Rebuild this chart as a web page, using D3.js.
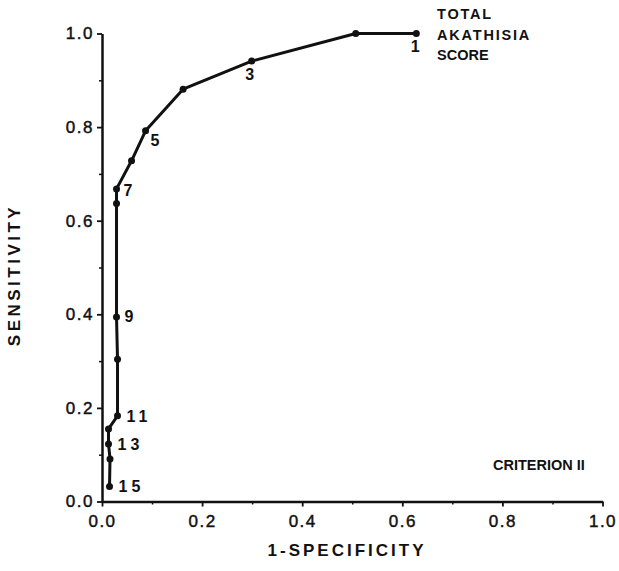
<!DOCTYPE html>
<html>
<head>
<meta charset="utf-8">
<script src="https://cdn.jsdelivr.net/npm/d3@7"></script>
<style>
  body { margin: 0; background: #fff; }
  svg { font-family: "Liberation Sans", Arial, Helvetica, sans-serif; }
  .axis path, .axis line { stroke: #111; }
  .axis text { fill: #111; stroke: #111; stroke-width: 0.45px; }
</style>
</head>
<body>
<div id="chart"></div>
<script>
// ROC points for the total akathisia score, cut-off 1 through 15
var cutoffs = [1, 2, 3, 4, 5, 6, 7, 8, 9, 10, 11, 12, 13, 14, 15];
var falsePos = [0.628, 0.507, 0.299, 0.162, 0.087, 0.059, 0.029, 0.029, 0.029, 0.031, 0.031, 0.013, 0.013, 0.016, 0.015];
var truePos = [1.0, 1.0, 0.941, 0.881, 0.792, 0.728, 0.668, 0.637, 0.394, 0.304, 0.183, 0.155, 0.123, 0.091, 0.032];
var majorTicks = [0, 0.2, 0.4, 0.6, 0.8, 1.0];
var minorTicks = [0.1, 0.3, 0.5, 0.7, 0.9];
var titleLines = ["TOTAL", "AKATHISIA", "SCORE"];

var svgWidth = 619;
var svgHeight = 571;
var margin = { top: 33.5, right: 16.5, bottom: 69.5, left: 102 };
var width = svgWidth - margin.left - margin.right;
var height = svgHeight - margin.top - margin.bottom;

var svg = d3.select("#chart")
  .append("svg")
  .attr("width", svgWidth)
  .attr("height", svgHeight);

var chartGroup = svg.append("g")
  .attr("transform", `translate(${margin.left}, ${margin.top})`);

var xScale = d3.scaleLinear().domain([0, 1]).range([0, width]);
var yScale = d3.scaleLinear().domain([0, 1]).range([height, 0]);

var points = cutoffs.map(function(c, i) {
  return { score: c, x: falsePos[i], y: truePos[i] };
});

// minor ticks first, no labels
chartGroup.append("g")
  .attr("class", "axis")
  .attr("transform", `translate(0, ${height})`)
  .call(d3.axisBottom(xScale).tickValues(minorTicks).tickSize(3).tickFormat(""))
  .call(g => g.select(".domain").remove())
  .selectAll("line").attr("stroke-width", 1.5);

chartGroup.append("g")
  .attr("class", "axis")
  .call(d3.axisLeft(yScale).tickValues(minorTicks).tickSize(3).tickFormat(""))
  .call(g => g.select(".domain").remove())
  .selectAll("line").attr("stroke-width", 1.5);

// major axes with labels
var xAxis = chartGroup.append("g")
  .attr("class", "axis")
  .attr("transform", `translate(0, ${height})`)
  .call(d3.axisBottom(xScale).tickValues(majorTicks).tickSize(5).tickSizeOuter(0).tickPadding(8).tickFormat(d3.format(".1f")));
xAxis.select(".domain").attr("stroke-width", 2.5);
xAxis.selectAll("line").attr("stroke-width", 1.8);
xAxis.selectAll("text")
  .style("font-size", "17px")
  .style("letter-spacing", "1.5px");

var yAxis = chartGroup.append("g")
  .attr("class", "axis")
  .call(d3.axisLeft(yScale).tickValues(majorTicks).tickSize(5).tickSizeOuter(0).tickPadding(3).tickFormat(d3.format(".1f")));
yAxis.select(".domain").attr("stroke-width", 2.5);
yAxis.selectAll("line").attr("stroke-width", 1.8);
yAxis.selectAll("text")
  .style("font-size", "17px")
  .style("letter-spacing", "1.5px");

// ROC curve
var line = d3.line()
  .x(d => xScale(d.x))
  .y(d => yScale(d.y));

chartGroup.append("path")
  .datum(points)
  .attr("d", line)
  .attr("fill", "none")
  .attr("stroke", "#111")
  .attr("stroke-width", 3)
  .attr("stroke-linejoin", "round");

chartGroup.selectAll("circle")
  .data(points)
  .enter()
  .append("circle")
  .attr("cx", d => xScale(d.x))
  .attr("cy", d => yScale(d.y))
  .attr("r", 3.5)
  .attr("fill", "#111");

// label every other cut-off
var labelOffsets = {
  1: [-1, 18, "middle"],
  3: [-2, 19, "middle"],
  5: [5, 15, "start"],
  7: [7, 7, "start"],
  9: [8, 5, "start"],
  11: [9, 6, "start"],
  13: [9, 6, "start"],
  15: [9, 5, "start"]
};

chartGroup.selectAll(".label")
  .data(points.filter(d => d.score % 2 === 1))
  .enter()
  .append("text")
  .attr("class", "label")
  .attr("x", d => xScale(d.x) + labelOffsets[d.score][0])
  .attr("y", d => yScale(d.y) + labelOffsets[d.score][1])
  .attr("text-anchor", d => labelOffsets[d.score][2])
  .style("font-size", "16px")
  .style("font-weight", "bold")
  .style("letter-spacing", d => d.score > 9 ? "4px" : "0px")
  .attr("fill", "#111")
  .text(d => d.score);

// series title, top right
svg.selectAll(".title")
  .data(titleLines)
  .enter()
  .append("text")
  .attr("class", "title")
  .attr("x", 437)
  .attr("y", (d, i) => 19 + i * 20.5)
  .style("font-size", "14.5px")
  .style("font-weight", "bold")
  .style("letter-spacing", (d, i) => i < 2 ? "1.8px" : "0px")
  .attr("fill", "#111")
  .text(d => d);

svg.append("text")
  .attr("x", 493)
  .attr("y", 470)
  .style("font-size", "14.5px")
  .style("font-weight", "bold")
  .attr("fill", "#111")
  .text("CRITERION II");

// axis titles
svg.append("text")
  .attr("x", 347)
  .attr("y", 556)
  .style("text-anchor", "middle")
  .style("font-size", "17px")
  .style("font-weight", "bold")
  .style("letter-spacing", "3px")
  .attr("fill", "#111")
  .text("1-SPECIFICITY");

svg.append("text")
  .attr("transform", "rotate(-90)")
  .attr("x", -275)
  .attr("y", 20)
  .style("text-anchor", "middle")
  .style("font-size", "17px")
  .style("font-weight", "bold")
  .style("letter-spacing", "3.5px")
  .attr("fill", "#111")
  .text("SENSITIVITY");
</script>
</body>
</html>
